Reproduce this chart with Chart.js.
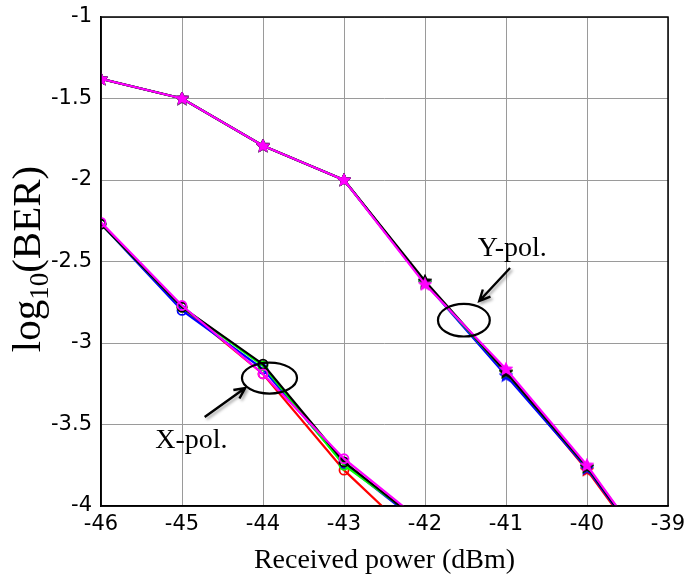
<!DOCTYPE html>
<html><head><meta charset="utf-8">
<script src="https://cdn.jsdelivr.net/npm/chart.js@4/dist/chart.umd.min.js"></script>
<style>html,body{margin:0;padding:0;background:#fff}#wrap{width:685px;height:583px}</style>
</head><body><div id="wrap"><canvas id="c" width="685" height="583"></canvas></div>
<script>
// Received power (dBm)
const powerX = [-46, -45, -44, -43, -42];
const powerY = [-46, -45, -44, -43, -42, -41, -40, -39];
// log10(BER), X-polarization (circle markers)
const xpolMagenta = [-2.26, -2.77, -3.19, -3.71, -4.11];
const xpolBlack   = [-2.27, -2.78, -3.13, -3.73, -4.12];
const xpolGreen   = [-2.27, -2.78, -3.14, -3.75, -4.11];
const xpolBlue    = [-2.27, -2.80, -3.16, -3.74, -4.13];
const xpolRed     = [-2.27, -2.78, -3.19, -3.78, -4.25];
// log10(BER), Y-polarization (star markers)
const ypolMagenta = [-1.38, -1.50, -1.79, -2.00, -2.64, -3.16, -3.75, -4.44];
const ypolBlack   = [-1.38, -1.50, -1.79, -2.00, -2.62, -3.18, -3.76, -4.45];
const ypolGreen   = [-1.38, -1.50, -1.79, -2.00, -2.63, -3.18, -3.76, -4.43];
const ypolBlue    = [-1.38, -1.50, -1.79, -2.00, -2.63, -3.20, -3.77, -4.45];
const ypolRed     = [-1.38, -1.50, -1.79, -2.00, -2.63, -3.18, -3.78, -4.46];
// tick labels
const xTicks = [-46, -45, -44, -43, -42, -41, -40, -39];
const yTicks = [-1, -1.5, -2, -2.5, -3, -3.5, -4];
// annotations (data coordinates)
const xpolLabel = {text: 'X-pol.', x: -45.33, y: -3.60};
const ypolLabel = {text: 'Y-pol.', x: -41.35, y: -2.42};
const xpolEllipse = {x: -43.92, y: -3.215, rx: 0.34, ry: 0.095};
const ypolEllipse = {x: -41.52, y: -2.86, rx: 0.32, ry: 0.10};
const xpolArrow = {x1: -44.72, y1: -3.454, x2: -44.22, y2: -3.276};
const ypolArrow = {x1: -40.95, y1: -2.54, x2: -41.33, y2: -2.742};

function starImg(color) {
  const c = document.createElement('canvas');
  c.width = 14; c.height = 14;
  const g = c.getContext('2d');
  g.fillStyle = color; g.strokeStyle = color; g.lineWidth = 1.2;
  g.beginPath();
  for (let i = 0; i < 10; i++) {
    const r = i % 2 === 0 ? 6.3 : 3;
    const a = -Math.PI / 2 + i * Math.PI / 5;
    const px = 7 + r * Math.cos(a), py = 7.3 + r * Math.sin(a);
    i === 0 ? g.moveTo(px, py) : g.lineTo(px, py);
  }
  g.closePath(); g.fill(); g.stroke();
  return c;
}
function pts(xs, ys) { return xs.map((x, i) => ({x: x, y: ys[i]})); }
function circleSet(ys, color) {
  return {data: pts(powerX, ys), borderColor: color, backgroundColor: 'rgba(0,0,0,0)',
    borderWidth: 2.2, pointStyle: 'circle', pointRadius: 4.5, pointBorderWidth: 1.8,
    pointBorderColor: color, pointBackgroundColor: 'rgba(0,0,0,0)', tension: 0};
}
function starSet(ys, color) {
  return {data: pts(powerY, ys), borderColor: color, backgroundColor: color,
    borderWidth: 2.2, pointStyle: starImg(color), pointRadius: 6, tension: 0};
}

const annotPlugin = {
  id: 'annot',
  afterDraw(chart) {
    const ctx = chart.ctx, xs = chart.scales.x, ys = chart.scales.y, ca = chart.chartArea;
    ctx.save();
    // box
    ctx.strokeStyle = '#000'; ctx.lineWidth = 1.5;
    ctx.strokeRect(ca.left, ca.top, ca.right - ca.left, ca.bottom - ca.top);
    // ellipses
    ctx.lineWidth = 2.2;
    [xpolEllipse, ypolEllipse].forEach(e => {
      const cx = xs.getPixelForValue(e.x), cy = ys.getPixelForValue(e.y);
      const rx = Math.abs(xs.getPixelForValue(e.x + e.rx) - cx);
      const ry = Math.abs(ys.getPixelForValue(e.y + e.ry) - cy);
      ctx.beginPath(); ctx.ellipse(cx, cy, rx, ry, 0, 0, Math.PI * 2); ctx.stroke();
    });
    // arrows
    ctx.shadowColor = 'rgba(0,0,0,0.35)'; ctx.shadowBlur = 3; ctx.shadowOffsetX = 2; ctx.shadowOffsetY = 2;
    ctx.lineWidth = 2.4;
    [xpolArrow, ypolArrow].forEach(a => {
      const x1 = xs.getPixelForValue(a.x1), y1 = ys.getPixelForValue(a.y1);
      const x2 = xs.getPixelForValue(a.x2), y2 = ys.getPixelForValue(a.y2);
      const ang = Math.atan2(y2 - y1, x2 - x1), h = 12;
      ctx.beginPath(); ctx.moveTo(x1, y1); ctx.lineTo(x2, y2);
      ctx.moveTo(x2 - h * Math.cos(ang - 0.45), y2 - h * Math.sin(ang - 0.45));
      ctx.lineTo(x2, y2);
      ctx.lineTo(x2 - h * Math.cos(ang + 0.45), y2 - h * Math.sin(ang + 0.45));
      ctx.stroke();
    });
    ctx.shadowColor = 'rgba(0,0,0,0)';
    // labels
    ctx.fillStyle = '#000'; ctx.font = '28px "Liberation Serif", "Times New Roman", serif';
    ctx.textBaseline = 'middle'; ctx.textAlign = 'left';
    [xpolLabel, ypolLabel].forEach(l => {
      ctx.fillText(l.text, xs.getPixelForValue(l.x), ys.getPixelForValue(l.y));
    });
    // y axis title with subscript
    ctx.translate(28, 259);
    ctx.rotate(-Math.PI / 2);
    const big = '41px "Liberation Serif", "Times New Roman", serif';
    const small = '27px "Liberation Serif", "Times New Roman", serif';
    ctx.font = big; const w1 = ctx.measureText('log').width, w3 = ctx.measureText('(BER)').width;
    ctx.font = small; const w2 = ctx.measureText('10').width;
    let x = -(w1 + w2 + w3) / 2;
    ctx.textBaseline = 'alphabetic';
    ctx.font = big; ctx.fillText('log', x, 12); x += w1;
    ctx.font = small; ctx.fillText('10', x, 20); x += w2;
    ctx.font = big; ctx.fillText('(BER)', x, 12);
    ctx.restore();
  }
};

new Chart(document.getElementById('c'), {
  type: 'line',
  data: {
    datasets: [
      starSet(ypolMagenta, '#ff00ff'), circleSet(xpolMagenta, '#ff00ff'),
      starSet(ypolBlack, '#000000'), circleSet(xpolBlack, '#000000'),
      starSet(ypolGreen, '#00ff00'), circleSet(xpolGreen, '#00ff00'),
      starSet(ypolBlue, '#0000ff'), circleSet(xpolBlue, '#0000ff'),
      starSet(ypolRed, '#ff0000'), circleSet(xpolRed, '#ff0000')
    ]
  },
  options: {
    responsive: false, animation: false,
    layout: {padding: {left: 0, right: 17, top: 17, bottom: 0}},
    plugins: {legend: {display: false}, tooltip: {enabled: false}},
    scales: {
      x: {
        type: 'linear', min: -46, max: -39,
        afterBuildTicks(s) { s.ticks = xTicks.map(v => ({value: v})); },
        afterFit(s) { s.height = 77; s.paddingLeft = 0; s.paddingRight = 0; },
        ticks: {padding: 6, color: '#000', font: {family: '"DejaVu Sans", Arial, sans-serif', size: 21},
          callback: v => String(v)},
        grid: {color: '#9a9a9a', lineWidth: 1, drawTicks: false},
        border: {color: '#000', width: 1.5},
        title: {display: true, text: 'Received power (dBm)', color: '#000',
          font: {family: '"Liberation Serif", "Times New Roman", serif', size: 28}, padding: {top: 2, bottom: 6}}
      },
      y: {
        type: 'linear', min: -4, max: -1,
        afterBuildTicks(s) { s.ticks = yTicks.map(v => ({value: v})); },
        afterFit(s) { s.width = 101; s.paddingTop = 0; s.paddingBottom = 0; },
        ticks: {padding: 9, color: '#000', font: {family: '"DejaVu Sans", Arial, sans-serif', size: 21},
          callback: v => String(v)},
        grid: {color: '#9a9a9a', lineWidth: 1, drawTicks: false},
        border: {color: '#000', width: 1.5}
      }
    }
  },
  plugins: [annotPlugin]
});
</script></body></html>
